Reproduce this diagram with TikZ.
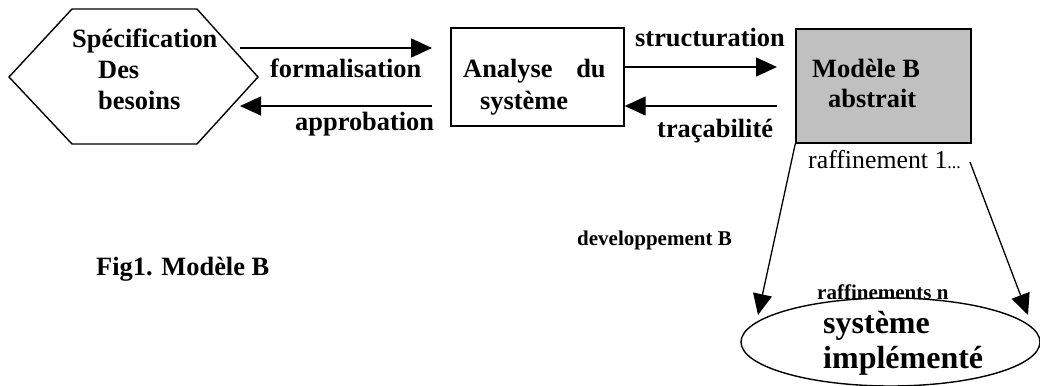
\documentclass[tikz,border=0pt]{standalone}
\usepackage{fontspec}
\setmainfont{Liberation Serif}
\usetikzlibrary{shapes.geometric,arrows.meta}
\definecolor{boxgray}{RGB}{192,192,192}
\begin{document}
\begin{tikzpicture}[x=1pt,y=-1pt,
  lw/.style={line width=1.4pt},
  arr/.style={lw,-{Triangle[length=21pt,width=19pt]}},
  thinarr/.style={line width=1.3pt,-{Triangle[length=21pt,width=19pt]}},
  frame/.style={draw,lw,inner sep=0pt},
  bt/.style={font=\bfseries\fontsize{26.4}{31}\selectfont,inner sep=0pt,anchor=base west},
  st/.style={font=\bfseries\fontsize{21}{25}\selectfont,inner sep=0pt,anchor=base west},
  rt/.style={font=\fontsize{25.8}{30}\selectfont,inner sep=0pt,anchor=base west}
]
\useasboundingbox (0,0) rectangle (1040,385);
% hexagon
\draw[lw] (9,77) -- (72,9) -- (197,9) -- (258,77) -- (197,144) -- (72,144) -- cycle;
\node[bt] (spec) at (72,48) {\vtop{\hbox{Spécification}\hbox{\hspace*{26pt}Des}\hbox{\hspace*{26pt}besoins}}};
% boxes
\node[frame,minimum width=173pt,minimum height=98pt] (analyse) at (537.5,77) {};
\node[bt,font=\bfseries\fontsize{26.4}{32}\selectfont] (antxt) at (463,78) {\vtop{\hbox{Analyse\hspace{17pt} du}\hbox{\hspace*{17pt}système}}};
\node[frame,fill=boxgray,minimum width=175pt,minimum height=114pt] (modele) at (883.5,86) {};
\node[bt,font=\bfseries\fontsize{26.4}{30}\selectfont] (motxt) at (812,78) {\vtop{\hbox{Modèle B}\hbox{\hspace*{16pt}abstrait}}};
\node[frame,ellipse,minimum width=299pt,minimum height=88pt] (impl) at (890.5,342) {};
\node[bt,font=\bfseries\fontsize{32}{35}\selectfont] (imtxt) at (823,333) {\vtop{\hbox{système}\hbox{implémenté}}};
% coordinates
\coordinate (hexA) at (240,48);
\coordinate (anA) at (432,48);
\coordinate (anB) at (432,106);
\coordinate (hexB) at (240,106);
\coordinate (moA) at (777,67);
\coordinate (moB) at (777,106);
\coordinate (rafE) at (970,162);
\coordinate (imL) at (758,315);
\coordinate (imR) at (1028,315);
% connectors
\draw[arr] (hexA) -- (anA);
\draw[arr] (anB) -- (hexB);
\draw[arr] (analyse.east |- moA) -- (moA);
\draw[arr] (moB) -- (analyse.east |- moB);
\draw[thinarr] (modele.south west) -- (imL);
\draw[thinarr] (rafE) -- (imR);
% labels
\node[bt] (lform) at (270,78) {formalisation};
\node[bt] (lappr) at (295,131) {approbation};
\node[bt] (lstru) at (635,47) {structuration};
\node[bt] (ltrac) at (657,137) {traçabilité};
\node[rt] (lraf) at (808,168) {raffinement 1{\fontsize{18}{18}\selectfont...}};
\node[st] (ldev) at (577,245) {developpement B};
\node[bt] (lfig) at (96,275) {Fig1. Modèle B};
\node[st] (lrafn) at (817,299) {raffinements n};
\end{tikzpicture}
\end{document}
